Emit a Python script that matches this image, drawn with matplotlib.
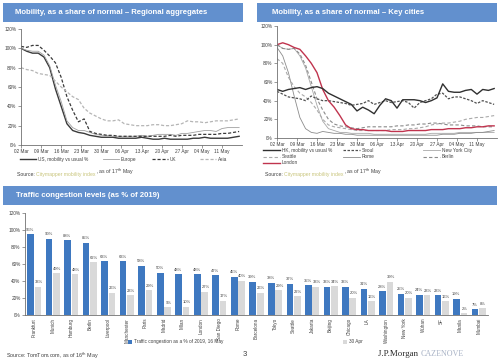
import numpy as np
import pandas as pd
import matplotlib
matplotlib.use("Agg")
import matplotlib.pyplot as plt
from matplotlib.patches import Rectangle
from matplotlib.ticker import FuncFormatter

plt.rcParams['font.family'] = ['Liberation Sans', 'DejaVu Sans']

# ---- data: mobility (Citymapper), every 2nd day from 02 Mar to 17 May ----
DATES = pd.date_range('2020-03-02', '2020-05-17', freq='2D')
WEEK_TICKS = pd.date_range('2020-03-02', '2020-05-11', freq='7D')

US = [100, 97, 95, 95, 91, 80, 58, 40, 22, 15,
      13, 12, 10, 9, 8, 8, 8, 7, 7, 7,
      7, 8, 7, 6, 6, 7, 6, 6, 6, 6,
      7, 7, 8, 7, 7, 7, 7, 8, 9]
EUROPE = [100, 98, 97, 97, 93, 82, 62, 45, 25, 18,
          15, 15, 13, 11, 10, 10, 9, 9, 9, 9,
          9, 10, 9, 10, 11, 11, 11, 10, 12, 12,
          13, 14, 15, 15, 14, 17, 18, 18, 18]
UK = [102, 101, 103, 103, 98, 92, 85, 70, 50, 36,
      24, 27, 14, 12, 11, 10, 10, 9, 9, 9,
      9, 9, 9, 9, 9, 9, 10, 9, 10, 10,
      10, 11, 11, 11, 11, 12, 12, 13, 14]
ASIA = [80, 78, 77, 74, 73, 72, 66, 60, 55, 50,
        47, 38, 33, 30, 27, 25, 25, 26, 22, 21,
        20, 20, 20, 21, 21, 20, 20, 21, 22, 25,
        24, 24, 23, 24, 25, 25, 25, 26, 27]

HK = [52, 50, 52, 53, 54, 52, 54, 55, 53, 48,
      45, 42, 39, 36, 29, 33, 30, 26, 35, 42,
      40, 32, 41, 41, 41, 40, 38, 40, 43, 58,
      50, 49, 49, 51, 52, 47, 52, 51, 53]
SEOUL = [50, 47, 44, 43, 42, 40, 45, 42, 40, 40,
         39, 38, 37, 35, 36, 37, 40, 36, 38, 40,
         38, 39, 40, 38, 32, 38, 40, 42, 47, 48,
         42, 44, 44, 42, 40, 37, 40, 38, 36]
NYC = [100, 96, 95, 96, 88, 75, 55, 35, 18, 10,
       8, 6, 6, 5, 5, 5, 5, 4, 4, 4,
       4, 4, 4, 4, 4, 4, 4, 5, 5, 5,
       5, 5, 6, 6, 6, 6, 6, 6, 6]
SEATTLE = [85, 80, 65, 55, 48, 44, 38, 30, 20, 14,
           12, 11, 10, 9, 8, 8, 8, 8, 8, 8,
           9, 9, 9, 10, 10, 11, 12, 14, 15, 16,
           16, 17, 18, 20, 21, 22, 22, 23, 24]
ROME = [97, 88, 70, 45, 22, 10, 6, 5, 7, 6,
        5, 5, 4, 4, 3, 3, 3, 3, 3, 3,
        3, 3, 3, 3, 3, 3, 3, 3, 3, 4,
        4, 4, 5, 5, 5, 6, 6, 7, 8]
BERLIN = [100, 96, 95, 96, 90, 78, 60, 42, 30, 20,
          15, 13, 12, 11, 10, 11, 12, 12, 12, 12,
          12, 13, 13, 14, 14, 15, 15, 16, 16, 15,
          14, 14, 14, 13, 13, 13, 12, 12, 12]
LONDON = [100, 102, 100, 97, 95, 88, 80, 70, 52, 40,
          33, 24, 14, 10, 9, 9, 8, 8, 8, 8,
          7, 7, 7, 8, 8, 8, 8, 9, 9, 9,
          10, 10, 10, 11, 11, 12, 12, 13, 13]

# ---- data: traffic congestion (TomTom) ----
CITIES = ["Frankfurt", "Munich", "Hamburg", "Berlin", "Liverpool", "Manchester",
          "Paris", "Madrid", "Milan", "London", "San Diego", "Rome", "Barcelona",
          "Tokyo", "Seattle", "Jakarta", "Beijing", "Chicago", "LA", "Washington",
          "New York", "Wuhan", "SF", "Manila", "Mumbai"]
CONG_16MAY = [95, 90, 88, 85, 63, 63, 58, 50, 48, 48, 47, 45, 39,
              38, 37, 35, 33, 33, 31, 28, 25, 24, 23, 19, 7]
CONG_30APR = [33, 49, 48, 62, 26, 23, 29, 9, 10, 27, 17, 40, 26,
              29, 22, 33, 34, 20, 16, 39, 20, 23, 16, 2, 8]

HEADER = '#6290CE'
BLUE = '#3E78C0'
GREY = '#D9D9D9'
TXT = '#404040'
W, H = 500, 360
FS = 3.4  # small text size

fig = plt.figure(figsize=(5, 3.6), dpi=100)


def add_axes(x0, y_top, x1, y_bot):
    return fig.add_axes([x0 / W, 1 - y_bot / H, (x1 - x0) / W, (y_bot - y_top) / H])


def header(x0, y0, x1, y1, title, tx):
    fig.patches.append(Rectangle((x0 / W, 1 - y1 / H), (x1 - x0) / W, (y1 - y0) / H,
                                 transform=fig.transFigure, facecolor=HEADER,
                                 edgecolor='none'))
    fig.text(tx / W, 1 - (y0 + y1) / 2 / H, title, color='white',
             fontweight='bold', fontsize=5.6, va='center')


def source_line(ax, x, y):
    t = ax.annotate("Source: ", xy=(x / W, 1 - y / H), xycoords='figure fraction',
                    fontsize=3.7, color=TXT, va='bottom', annotation_clip=False)
    t2 = ax.annotate("Citymapper mobility index", xy=(1, 0), xycoords=t,
                     fontsize=3.7, color='#C8C47A', va='bottom', annotation_clip=False)
    ax.annotate(", as of 17$^{\\mathrm{th}}$ May", xy=(1, 0), xycoords=t2,
                fontsize=3.7, color=TXT, va='bottom', annotation_clip=False)


pct = FuncFormatter(lambda v, _: f"{v:.0f}%")


def style_axes(ax):
    for s in ['top', 'right']:
        ax.spines[s].set_visible(False)
    for s in ['left', 'bottom']:
        ax.spines[s].set_color('#707070')
        ax.spines[s].set_linewidth(0.6)
    ax.set_ylim(0, 120)
    ax.set_yticks(range(0, 121, 20))
    ax.yaxis.set_major_formatter(pct)
    ax.tick_params(axis='both', labelsize=FS, colors='#707070', labelcolor=TXT,
                   length=2, width=0.5, pad=1.2)


def line_axes(ax):
    style_axes(ax)
    ax.set_xlim(DATES[0], DATES[-1] + pd.Timedelta(days=1))
    ax.set_xticks(WEEK_TICKS)
    ax.set_xticklabels([d.strftime('%d %b') for d in WEEK_TICKS])


def one_legend(handles, labels, x, y, **kw):
    opts = dict(frameon=False, fontsize=FS, handletextpad=0.5, labelspacing=0.25,
                borderpad=0, borderaxespad=0, labelcolor=TXT)
    opts.update(kw)
    fig.legend(handles, labels, loc='upper left', bbox_to_anchor=(x / W, 1 - y / H), **opts)


# ---- top left: regional aggregates ----
header(3, 3, 243, 22, "Mobility, as a share of normal – Regional aggregates", 15)
ax1 = add_axes(21, 29, 242, 145)
line_axes(ax1)
l_us, = ax1.plot(DATES, US, color='#3A3A3A', lw=1.0)
l_eu, = ax1.plot(DATES, EUROPE, color='#A0A0A0', lw=0.6)
l_uk, = ax1.plot(DATES, UK, color='#3A3A3A', lw=0.9, ls=(0, (2.5, 1.5)))
l_as, = ax1.plot(DATES, ASIA, color='#B5B5B5', lw=0.9, ls=(0, (2.5, 1.5)))
for h, lab, x in [(l_us, "US, mobility vs usual %", 20), (l_eu, "Europe", 103),
                  (l_uk, "UK", 152), (l_as, "Asia", 200)]:
    one_legend([h], [lab], x, 157, handlelength=3.3)
source_line(ax1, 17, 177)

# ---- top right: key cities ----
header(257, 3, 497, 22, "Mobility, as a share of normal – Key cities", 272)
ax2 = add_axes(277, 26, 497, 138)
line_axes(ax2)
h_nyc, = ax2.plot(DATES, NYC, color='#A8A8A8', lw=0.6)
h_rome, = ax2.plot(DATES, ROME, color='#8C8C8C', lw=0.6)
h_sea, = ax2.plot(DATES, SEATTLE, color='#AAAAAA', lw=0.8, ls=(0, (3, 2)))
h_ber, = ax2.plot(DATES, BERLIN, color='#8A8A8A', lw=0.8, ls=(0, (3, 2)))
h_seo, = ax2.plot(DATES, SEOUL, color='#505050', lw=0.9, ls=(0, (2, 1.2)))
h_lon, = ax2.plot(DATES, LONDON, color='#C0344E', lw=1.0)
h_hk, = ax2.plot(DATES, HK, color='#303030', lw=1.0)
columns = [([h_hk, h_sea, h_lon], ["HK, mobility vs usual %", "Seattle", "London"], 263),
           ([h_seo, h_rome], ["Seoul", "Rome"], 343),
           ([h_nyc, h_ber], ["New York City", "Berlin"], 423)]
for hs, labs, x in columns:
    one_legend(hs, labs, x, 148, handlelength=3.5)
source_line(ax2, 265, 177)

# ---- bottom: traffic congestion ----
header(3, 186, 497, 205, "Traffic congestion levels (as % of 2019)", 16)
ax3 = add_axes(25, 213, 488, 315)
style_axes(ax3)
x = np.arange(len(CITIES))
w = 0.36
b1 = ax3.bar(x - 0.2, CONG_16MAY, w, color=BLUE)
b2 = ax3.bar(x + 0.2, CONG_30APR, w, color=GREY)
for xi, v in zip(x, CONG_16MAY):
    ax3.text(xi - 0.22, v + 3, f"{v}%", ha='center', va='bottom', fontsize=3.0, color=TXT)
for xi, v in zip(x, CONG_30APR):
    ax3.text(xi + 0.24, v + 3, f"{v}%", ha='center', va='bottom', fontsize=3.0, color=TXT)
ax3.set_xlim(-0.5, len(CITIES) - 0.5)
ax3.set_xticks(x)
ax3.set_xticklabels(CITIES, rotation=90, fontsize=3.3)
ax3.tick_params(axis='x', length=0, pad=2)
one_legend([b1], ["Traffic congestion as a % of 2019, 16 May"], 128, 339.5,
           handlelength=0.8, handleheight=0.8, handletextpad=0.4)
one_legend([b2], ["30 Apr"], 343, 339.5,
           handlelength=0.8, handleheight=0.8, handletextpad=0.4)

# ---- footer ----
fig.text(6 / W, 1 - 356 / H, "Source: TomTom.com, as of 16$^{\\mathrm{th}}$ May",
         fontsize=3.9, color=TXT, va='center')
fig.text(245 / W, 1 - 355 / H, "3", fontsize=5.5, color=TXT, va='center', ha='center')
jp = ax3.annotate("J.P.Morgan ", xy=(378 / W, 1 - 358 / H), xycoords='figure fraction',
                  fontsize=6.4, color='#2A2A2A', family='Liberation Serif',
                  va='bottom', annotation_clip=False)
ax3.annotate("CAZENOVE", xy=(1, 0), xycoords=jp, fontsize=5.8, color='#A9B3C6',
             family='Liberation Serif', va='bottom', annotation_clip=False)

fig.savefig("out.png", dpi=100, facecolor='white')
